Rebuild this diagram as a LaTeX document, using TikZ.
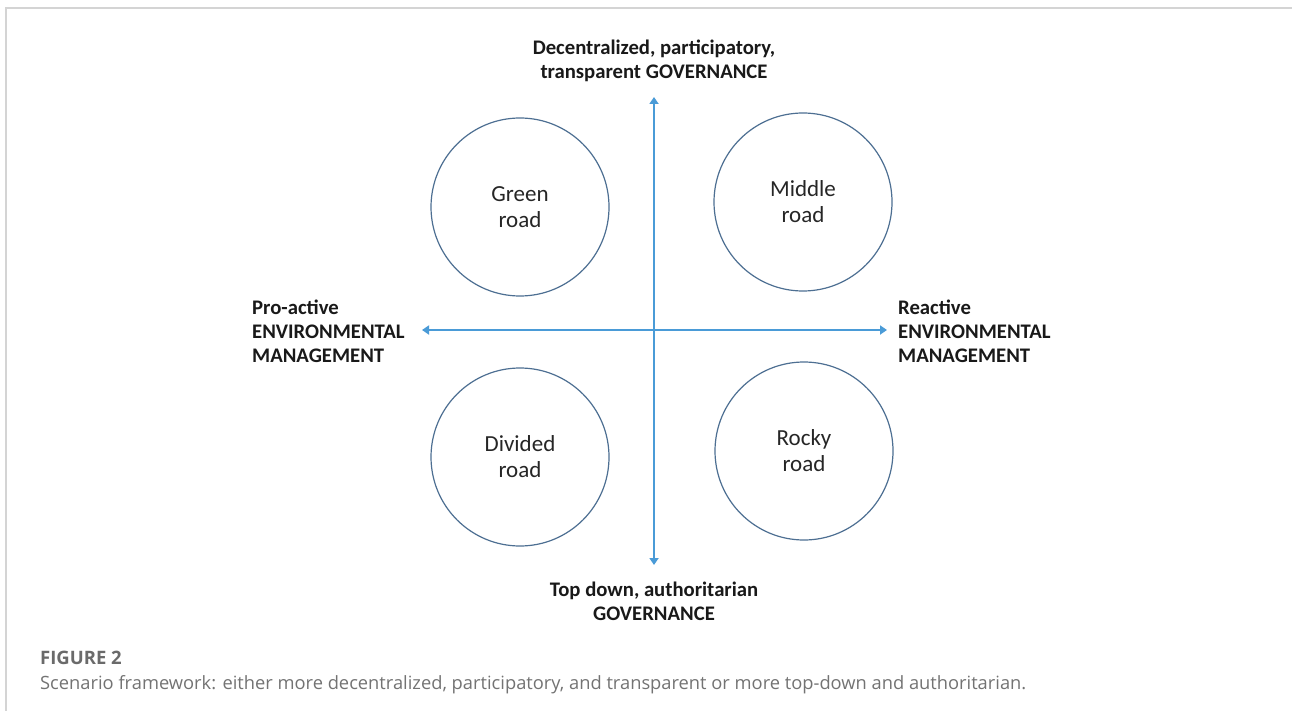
\documentclass[tikz,border=0pt]{standalone}
\usepackage{fontspec}
\setmainfont{Carlito}
\newfontfamily\capfont{Open Sans}
\usetikzlibrary{arrows.meta}
\definecolor{axisblue}{HTML}{4A9BD7}
\definecolor{ringblue}{HTML}{4D6F92}
\definecolor{framegray}{HTML}{D4D4D4}
\definecolor{capgray}{HTML}{6A6A6A}
\definecolor{captext}{HTML}{737373}
\begin{document}
\begin{tikzpicture}[x=1pt,y=-1pt,
  axis/.style={draw=axisblue,line width=2.6pt,{Triangle[width=9pt,length=7pt]}-{Triangle[width=9pt,length=7pt]}},
  road/.style={circle,draw=ringblue,line width=1.2pt,minimum size=178pt,inner sep=0pt,align=center,
    font=\fontsize{23}{26}\selectfont,text=black!85},
  lab/.style={font=\bfseries\fontsize{20.7}{24}\selectfont,inner sep=0pt,text=black!90}
]
\useasboundingbox (0,0) rectangle (1292,711);
\fill[white] (0,0) rectangle (1292,711);
\draw[framegray,line width=1.5pt] (6,711) -- (6,8) -- (1292,8);

% axes
\coordinate (vt) at (654,97);
\coordinate (vb) at (654,565);
\coordinate (hl) at (422,330);
\coordinate (hr) at (887,330);
\draw[axis] (vt) -- (vb);
\draw[axis] (hl) -- (hr);

% circles
\node[road] (green) at (520,207) {Green\\road};
\node[road] (middle) at (803,202) {Middle\\road};
\node[road] (divided) at (520,457) {Divided\\road};
\node[road] (rocky) at (804,451) {Rocky\\road};

% axis labels
\node[lab,align=center] (top) at (654,61) {Decentralized, participatory,\\transparent GOVERNANCE};
\node[lab,align=center] (bottom) at (654,601) {Top down, authoritarian\\GOVERNANCE};
\node[lab,align=left,anchor=west] (left) at (252,331) {Pro-active\\ENVIRONMENTAL\\MANAGEMENT};
\node[lab,align=left,anchor=west] (right) at (898,331) {Reactive\\ENVIRONMENTAL\\MANAGEMENT};

% caption
\node[anchor=base west,inner sep=0pt,text=capgray,font=\capfont\bfseries\fontsize{18.5}{21}\selectfont] (fig) at (40,664) {FIGURE 2};
\node[anchor=base west,inner sep=0pt,text=captext,font=\capfont\fontsize{18.3}{21}\selectfont] (cap) at (40,689) {Scenario framework: either more decentralized, participatory, and transparent or more top-down and authoritarian.};
\end{tikzpicture}
\end{document}
